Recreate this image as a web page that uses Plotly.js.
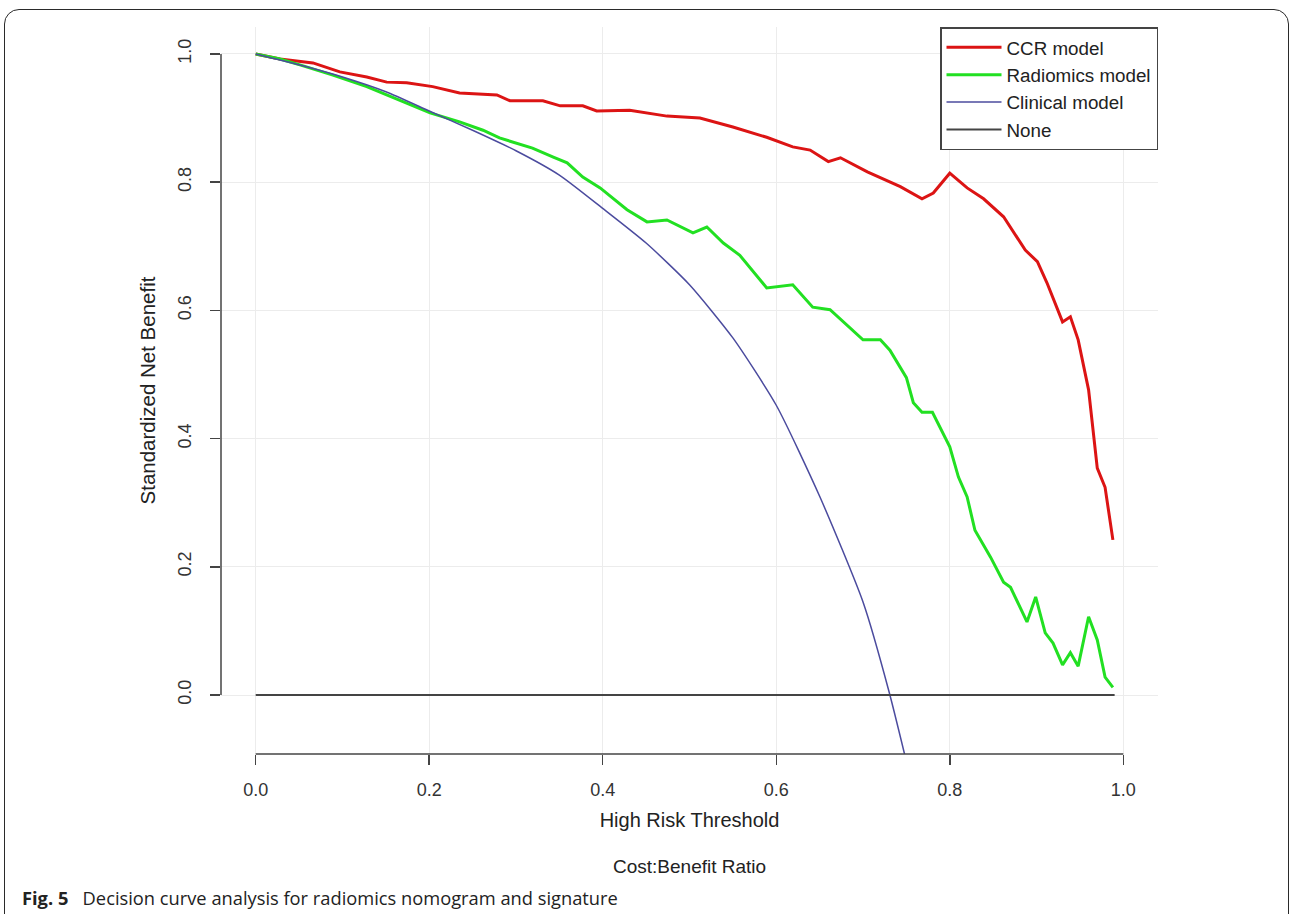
<!DOCTYPE html>
<html>
<head>
<meta charset="utf-8">
<script src="https://cdn.plot.ly/plotly-3.0.1.min.js"></script>
<style>
  html, body { margin: 0; padding: 0; background: #fff; overflow: hidden; }
  #chart { position: absolute; left: 0; top: 0; width: 1290px; height: 914px; }
  #frame { position: absolute; left: 4px; top: 9px; width: 1285px; height: 940px;
           box-sizing: border-box; border: 1.5px solid #2a2a2a; border-radius: 15px;
           pointer-events: none; z-index: 10; }
</style>
</head>
<body>
<div id="chart"></div>
<div id="frame"></div>
<script>
// ---- Data ----
const ccrX = [0.000, 0.028, 0.066, 0.097, 0.128, 0.151, 0.174, 0.204, 0.235, 0.278, 0.293, 0.331, 0.351, 0.377, 0.393, 0.431, 0.474, 0.512, 0.550, 0.589, 0.619, 0.639, 0.660, 0.674, 0.705, 0.743, 0.768, 0.781, 0.800, 0.820, 0.839, 0.862, 0.887, 0.901, 0.912, 0.930, 0.939, 0.948, 0.960, 0.970, 0.979, 0.988];
const ccrY = [1.000, 0.992, 0.986, 0.972, 0.964, 0.956, 0.955, 0.949, 0.939, 0.936, 0.927, 0.927, 0.919, 0.919, 0.911, 0.912, 0.903, 0.900, 0.886, 0.870, 0.855, 0.850, 0.832, 0.838, 0.816, 0.793, 0.774, 0.783, 0.814, 0.791, 0.774, 0.746, 0.694, 0.676, 0.643, 0.582, 0.590, 0.554, 0.476, 0.354, 0.324, 0.242];

const radX = [0.000, 0.028, 0.051, 0.089, 0.128, 0.166, 0.201, 0.235, 0.262, 0.281, 0.319, 0.343, 0.359, 0.377, 0.397, 0.428, 0.451, 0.474, 0.504, 0.520, 0.539, 0.558, 0.589, 0.619, 0.642, 0.662, 0.700, 0.720, 0.731, 0.750, 0.758, 0.768, 0.780, 0.800, 0.810, 0.820, 0.829, 0.847, 0.862, 0.870, 0.889, 0.899, 0.910, 0.919, 0.930, 0.939, 0.948, 0.960, 0.970, 0.979, 0.988];
const radY = [1.000, 0.992, 0.983, 0.967, 0.949, 0.928, 0.908, 0.894, 0.881, 0.869, 0.853, 0.839, 0.830, 0.808, 0.791, 0.757, 0.738, 0.741, 0.721, 0.730, 0.705, 0.686, 0.635, 0.640, 0.605, 0.601, 0.554, 0.554, 0.538, 0.495, 0.456, 0.441, 0.441, 0.387, 0.340, 0.309, 0.257, 0.215, 0.176, 0.168, 0.114, 0.153, 0.097, 0.081, 0.047, 0.066, 0.045, 0.122, 0.086, 0.028, 0.012];

const cliX = [0.00, 0.05, 0.10, 0.15, 0.20, 0.25, 0.30, 0.35, 0.40, 0.45, 0.50, 0.55, 0.60, 0.65, 0.70, 0.73, 0.76];
const cliY = [1.000, 0.983, 0.964, 0.941, 0.911, 0.881, 0.849, 0.811, 0.759, 0.705, 0.640, 0.557, 0.452, 0.310, 0.145, 0.005, -0.160];

const noneX = [0.00, 0.99];
const noneY = [0.00, 0.00];

const tickVals = [0.0, 0.2, 0.4, 0.6, 0.8, 1.0];
const tickText = ["0.0", "0.2", "0.4", "0.6", "0.8", "1.0"];
const seriesNames = ["CCR model", "Radiomics model", "Clinical model", "None"];

// ---- Traces ----
const traces = [
  { x: ccrX, y: ccrY, name: seriesNames[0], mode: "lines", type: "scatter",
    line: { color: "#dc1414", width: 3 } },
  { x: radX, y: radY, name: seriesNames[1], mode: "lines", type: "scatter",
    line: { color: "#22e022", width: 3 } },
  { x: cliX, y: cliY, name: seriesNames[2], mode: "lines", type: "scatter",
    line: { color: "#4b4b9e", width: 1.5, shape: "spline", smoothing: 0.6 } },
  { x: noneX, y: noneY, name: seriesNames[3], mode: "lines", type: "scatter",
    line: { color: "#444444", width: 2 } }
];

const fontFam = "Liberation Sans, Arial, sans-serif";

const layout = {
  width: 1290, height: 914,
  margin: { l: 221, r: 132, t: 27, b: 160, pad: 0 },
  paper_bgcolor: "#ffffff", plot_bgcolor: "#ffffff",
  font: { family: fontFam, color: "#333333", size: 18 },
  showlegend: true,
  legend: {
    x: 1, xanchor: "right", y: 1, yanchor: "top",
    bordercolor: "#444444", borderwidth: 1.5, bgcolor: "#ffffff",
    font: { family: fontFam, size: 18.8, color: "#222222" },
    itemwidth: 55
  },
  xaxis: {
    range: [-0.04, 1.04], tickmode: "array", tickvals: tickVals, ticktext: tickText,
    showgrid: true, gridcolor: "#ececec", gridwidth: 1, zeroline: false,
    showline: false, ticks: "outside", ticklen: 10, tickwidth: 1.5, tickcolor: "#444444",
    tickfont: { family: fontFam, size: 18, color: "#333333" },
    ticklabelstandoff: 9,
    title: { text: "High Risk Threshold", font: { family: fontFam, size: 20, color: "#222222" }, standoff: 14 },
    automargin: false, fixedrange: true
  },
  yaxis: {
    range: [-0.092, 1.042], tickmode: "array", tickvals: tickVals, ticktext: tickText,
    showgrid: true, gridcolor: "#ececec", gridwidth: 1, zeroline: false,
    showline: false, ticks: "outside", ticklen: 10, tickwidth: 1.5, tickcolor: "#444444",
    tickangle: -90,
    tickfont: { family: fontFam, size: 18, color: "#333333" },
    ticklabelstandoff: 12,
    title: { text: "Standardized Net Benefit", font: { family: fontFam, size: 20.5, color: "#222222" }, standoff: 13 },
    automargin: false, fixedrange: true
  },
  shapes: [
    // detached axis lines (R base-graphics style)
    { type: "line", xref: "paper", yref: "y", x0: 0, x1: 0, y0: 0, y1: 1,
      line: { color: "#444444", width: 1.5 } },
    { type: "line", xref: "x", yref: "paper", x0: 0, x1: 1, y0: 0, y1: 0,
      line: { color: "#444444", width: 1.5 } }
  ],
  annotations: [
    { text: "Cost:Benefit Ratio", xref: "paper", yref: "paper", x: 0.5, y: -0.1554,
      xanchor: "center", yanchor: "middle", showarrow: false,
      font: { family: fontFam, size: 19, color: "#222222" } },
    { text: "<b>Fig. 5</b>&nbsp;&nbsp;&nbsp;Decision curve analysis for radiomics nomogram and signature",
      xref: "paper", yref: "paper", x: (20 - 221) / 937, y: (754 - 897) / 727,
      xanchor: "left", yanchor: "middle", showarrow: false, align: "left",
      font: { family: "Open Sans, Noto Sans, sans-serif", size: 18.3, color: "#222222" } }
  ]
};

Plotly.newPlot("chart", traces, layout, { displayModeBar: false, staticPlot: true });
</script>
</body>
</html>
